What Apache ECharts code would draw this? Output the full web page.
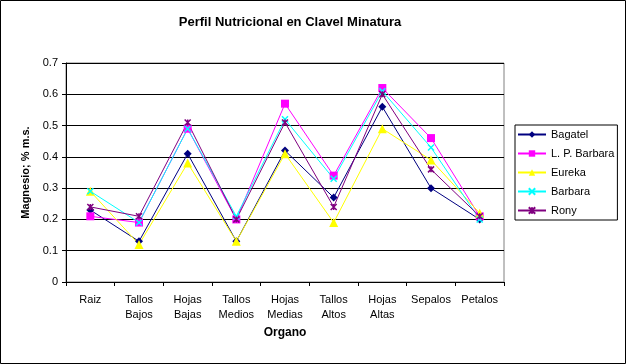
<!DOCTYPE html>
<html><head><meta charset="utf-8">
<script src="https://cdn.jsdelivr.net/npm/echarts@6/dist/echarts.min.js"></script>
<style>html,body{margin:0;padding:0;background:#fff}#c{width:626px;height:364px}</style>
</head><body><div id="c"></div>
<script>
const categories = ['Raiz','Tallos\nBajos','Hojas\nBajas','Tallos\nMedios','Hojas\nMedias','Tallos\nAltos','Hojas\nAltas','Sepalos','Petalos'];
const bagatel   = [0.23,0.13,0.41,0.13,0.42,0.27,0.56,0.30,0.20];
const lpBarbara = [0.21,0.19,0.49,0.20,0.57,0.34,0.62,0.46,0.21];
const eureka    = [0.29,0.12,0.38,0.13,0.41,0.19,0.49,0.39,0.22];
const barbara   = [0.29,0.19,0.49,0.21,0.52,0.33,0.61,0.43,0.20];
const rony      = [0.24,0.21,0.51,0.20,0.51,0.24,0.60,0.36,0.21];
const yTicks = [0,0.1,0.2,0.3,0.4,0.5,0.6,0.7];

const FONT = 'Liberation Sans, Arial, sans-serif';
const xSym = 'path://M0,0L10,10M10,0L0,10';
const starSym = 'path://M0,0L10,10M10,0L0,10M5,0L5,10';
function mk(name, data, color, symbol, size, strokeOnly){
  return {name, type:'line', data, symbol, symbolSize:size, showSymbol:true,
    lineStyle:{color, width:1}, 
    itemStyle: strokeOnly ? {color:'rgba(0,0,0,0)', borderColor:color, borderWidth:1.5} : {color},
    emphasis:{disabled:true}, animation:false};
}
const chart = echarts.init(document.getElementById('c'), null, {renderer:'canvas'});
chart.setOption({
  backgroundColor:'#fff',
  animation:false,
  title:{text:'Perfil Nutricional en Clavel Minatura', left:285, top:11, textAlign:'center',
    textStyle:{fontFamily:FONT, fontSize:13, fontWeight:'bold', color:'#000'}},
  graphic:[{type:'rect', shape:{x:0.5,y:0.5,width:625,height:363}, style:{fill:'none', stroke:'#000', lineWidth:1}, silent:true}],
  grid:{left:66, right:122, top:63, bottom:82, show:true, borderColor:'#808080', borderWidth:1, backgroundColor:'#fff'},
  legend:{orient:'vertical', left:515, top:125, padding:[4,3,4,2], itemGap:8, itemWidth:28, itemHeight:8,
    borderColor:'#000', borderWidth:1, backgroundColor:'#fff',
    textStyle:{fontFamily:FONT, fontSize:11, color:'#000'},
    data:['Bagatel','L. P. Barbara','Eureka','Barbara','Rony']},
  xAxis:{type:'category', data:categories, boundaryGap:true,
    name:'Organo', nameLocation:'middle', nameGap:44,
    nameTextStyle:{fontFamily:FONT, fontSize:12, fontWeight:'bold', color:'#000'},
    axisLine:{lineStyle:{color:'#000'}}, axisTick:{show:true, length:4, lineStyle:{color:'#000'}},
    axisLabel:{fontFamily:FONT, fontSize:11, color:'#000', margin:10, lineHeight:15, interval:0}},
  yAxis:{type:'value', min:0, max:0.7, interval:0.1,
    name:'Magnesio; % m.s.', nameLocation:'middle', nameGap:31,
    nameTextStyle:{fontFamily:FONT, fontSize:11, fontWeight:'bold', color:'#000'},
    axisLine:{show:true, lineStyle:{color:'#000'}}, axisTick:{show:true, length:4, lineStyle:{color:'#000'}},
    splitLine:{show:true, lineStyle:{color:'#000', width:1}},
    axisLabel:{fontFamily:FONT, fontSize:11, color:'#000', margin:8,
      formatter:v=>{const t=yTicks.find(x=>Math.abs(x-v)<1e-9); return t===0?'0':String(t);}}},
  series:[
    mk('Bagatel', bagatel, '#000080', 'diamond', 8, false),
    mk('L. P. Barbara', lpBarbara, '#FF00FF', 'rect', 8, false),
    mk('Eureka', eureka, '#FFFF00', 'triangle', 9, false),
    mk('Barbara', barbara, '#00FFFF', xSym, 6, true),
    mk('Rony', rony, '#800080', starSym, 6, true)
  ]
});
</script></body></html>
